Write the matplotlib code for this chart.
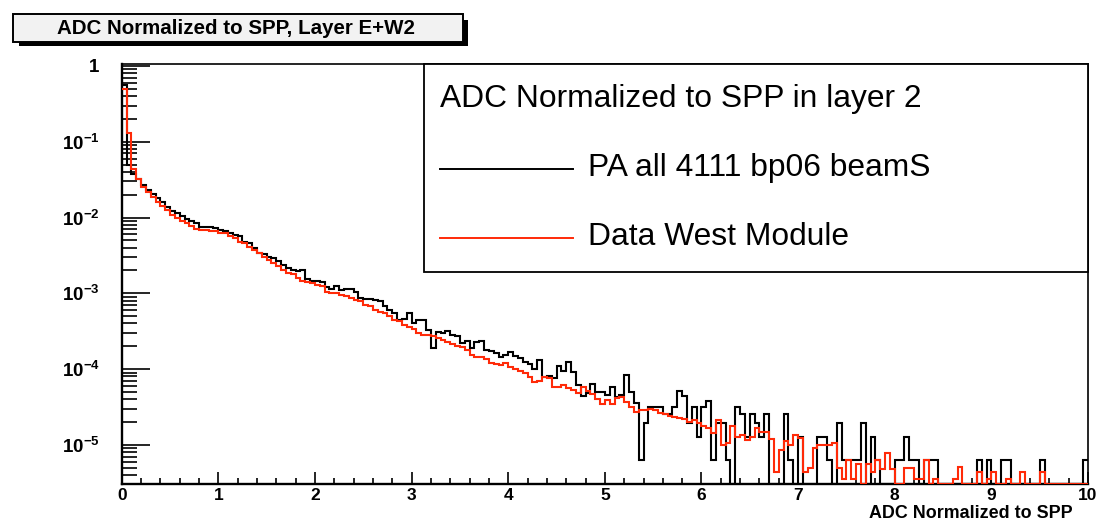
import numpy as np
import matplotlib
matplotlib.use("Agg")
import matplotlib.pyplot as plt
from matplotlib.patches import Rectangle
from matplotlib.lines import Line2D
from matplotlib.ticker import FixedLocator, LogLocator, MultipleLocator, NullFormatter

# ---------------- data ----------------
X_MIN, X_MAX, N_BINS = 0.0, 10.0, 200

# PA all 4111 bp06 beamS (black)
black = [
    0.56, 0.049, 0.038, 0.0327, 0.027, 0.023, 0.0204, 0.018, 0.0158, 0.0137,
    0.0123, 0.0114, 0.0105, 0.0095, 0.0090, 0.0084, 0.0076, 0.0074, 0.0074, 0.0072,
    0.0069, 0.0067, 0.0062, 0.0058, 0.0057, 0.00481, 0.00467, 0.00393, 0.00344, 0.00331,
    0.00305, 0.00290, 0.00270, 0.00237, 0.00214, 0.00200, 0.00194, 0.00200, 0.00153, 0.00147,
    0.00147, 0.00143, 0.00120, 0.00113, 0.00125, 0.00109, 0.00113, 0.00113, 0.00105, 0.00086,
    0.00084, 0.00084, 0.00082, 0.00078, 0.00068, 0.00060, 0.00055, 0.00045, 0.000455, 0.000546,
    0.000403, 0.000446, 0.000446, 0.000329, 0.000188, 0.000313, 0.000297, 0.000322, 0.000282, 0.000274,
    0.000219, 0.000238, 0.000188, 0.000231, 0.000238, 0.000179, 0.000174, 0.000162, 0.000143, 0.000154,
    0.000170, 0.000149, 0.000139, 0.000126, 0.000117, 9.95e-5, 0.000132, 7.8e-5, 8.1e-5, 7.57e-5,
    0.000110, 9.5e-5, 0.000126, 9.27e-5, 6.18e-5, 4.43e-5, 4.81e-5, 6.38e-5, 5.05e-5, 5.05e-5,
    4.57e-5, 5.76e-5, 4.34e-5, 4.57e-5, 8.38e-5, 5.05e-5, 3.55e-5, 6.4e-6, 1.92e-5, 3.2e-5,
    3.2e-5, 3.2e-5, 2.56e-5, 2.56e-5, 3.2e-5, 5.12e-5, 4.48e-5, 1.92e-5, 3.2e-5, 1.28e-5,
    3.2e-5, 3.84e-5, 6.4e-6, 1.92e-5, 1.92e-5, 6.4e-6, 0, 3.2e-5, 2.56e-5, 1.28e-5,
    2.56e-5, 1.92e-5, 1.28e-5, 2.56e-5, 0, 0, 0, 2.56e-5, 6.4e-6, 0,
    1.28e-5, 0, 0, 0, 1.28e-5, 1.28e-5, 6.4e-6, 0, 1.92e-5, 6.4e-6,
    6.4e-6, 6.4e-6, 6.4e-6, 1.92e-5, 0, 1.28e-5, 6.4e-6, 0, 0, 0,
    6.4e-6, 6.4e-6, 1.28e-5, 6.4e-6, 6.4e-6, 0, 6.4e-6, 6.4e-6, 6.4e-6, 0,
    0, 0, 0, 0, 0, 0, 0, 6.4e-6, 0, 6.4e-6,
    0, 0, 6.4e-6, 6.4e-6, 0, 0, 0, 0, 0, 0,
    6.4e-6, 0, 0, 0, 0, 0, 0, 0, 0, 6.4e-6,
]

# Data West Module (red)
red = [
    0.50, 0.13, 0.044, 0.032, 0.025, 0.0214, 0.0189, 0.0162, 0.0142, 0.0126,
    0.0108, 0.0100, 0.0091, 0.0084, 0.0078, 0.0070, 0.0068, 0.0068, 0.0066, 0.0066,
    0.0063, 0.0062, 0.0057, 0.0053, 0.00481, 0.00458, 0.00406, 0.00374, 0.00344, 0.00305,
    0.00276, 0.00249, 0.00226, 0.00204, 0.00184, 0.00181, 0.00158, 0.00147, 0.00143, 0.00136,
    0.00129, 0.00123, 0.00105, 0.00100, 0.00100, 0.00095, 0.00092, 0.00086, 0.00082, 0.00078,
    0.00070, 0.00067, 0.00060, 0.00057, 0.00055, 0.00050, 0.00045, 0.000425, 0.000384, 0.000357,
    0.000336, 0.000303, 0.000282, 0.000282, 0.000274, 0.000255, 0.000243, 0.000231, 0.000215, 0.000202,
    0.000194, 0.000179, 0.000154, 0.000146, 0.000143, 0.000135, 0.000122, 0.000117, 0.000114, 0.000122,
    0.000108, 9.95e-5, 9.55e-5, 8.8e-5, 7.8e-5, 6.84e-5, 7.05e-5, 7.8e-5, 7.57e-5, 5.76e-5,
    5.87e-5, 6.18e-5, 5.59e-5, 5.32e-5, 4.81e-5, 5.87e-5, 5.21e-5, 4.71e-5, 4.0e-5, 3.47e-5,
    3.92e-5, 3.47e-5, 4.13e-5, 4.34e-5, 3.73e-5, 3.14e-5, 2.75e-5, 2.89e-5, 2.89e-5, 2.95e-5,
    2.89e-5, 2.67e-5, 2.56e-5, 2.41e-5, 2.37e-5, 2.25e-5, 2.18e-5, 2.03e-5, 2.14e-5, 1.93e-5,
    1.75e-5, 1.66e-5, 1.43e-5, 2.10e-5, 1.0e-5, 1.07e-5, 1.75e-5, 1.29e-5, 1.36e-5, 1.16e-5,
    1.29e-5, 1.66e-5, 1.46e-5, 1.46e-5, 1.19e-5, 4.45e-6, 8.6e-6, 1.11e-5, 1.0e-5, 1.36e-5,
    1.23e-5, 4.45e-6, 4.9e-6, 9.0e-6, 1.0e-5, 1.0e-5, 1.0e-5, 1.07e-5, 4.9e-6, 3.6e-6,
    6.3e-6, 3.6e-6, 5.6e-6, 0, 5.6e-6, 4.45e-6, 6.3e-6, 4.8e-6, 7.8e-6, 4.8e-6,
    0, 0, 4.9e-6, 4.9e-6, 3.6e-6, 3.6e-6, 6.3e-6, 0, 3.6e-6, 0,
    0, 0, 3.6e-6, 5.1e-6, 0, 0, 0, 4.4e-6, 0, 3.6e-6,
    4.4e-6, 0, 0, 3.6e-6, 0, 0, 4.4e-6, 0, 0, 0,
    4.4e-6, 0, 0, 0, 0, 0, 0, 0, 0, 0,
]

Y_TICKS = [1e-5, 1e-4, 1e-3, 1e-2, 1e-1, 1.0]
Y_TICK_LABELS = [r"$\mathbf{10^{-5}}$", r"$\mathbf{10^{-4}}$", r"$\mathbf{10^{-3}}$",
                 r"$\mathbf{10^{-2}}$", r"$\mathbf{10^{-1}}$", r"$\mathbf{1}$"]

TITLE = "ADC Normalized to SPP, Layer E+W2"
XLABEL = "ADC Normalized to SPP"
LEG_HEADER = "ADC Normalized to SPP in layer 2"
LABEL_BLACK = "PA all 4111 bp06 beamS"
LABEL_RED = "Data West Module"
RED = "#ff2a08"

# ---------------- style ----------------
plt.rcParams["font.family"] = ["Liberation Sans", "DejaVu Sans"]
plt.rcParams["mathtext.fontset"] = "custom"
plt.rcParams["mathtext.rm"] = "Liberation Sans"
plt.rcParams["mathtext.bf"] = "Liberation Sans:bold"

W, H = 1099, 521
def fx(x):
    return x / W
def fy(y):
    return 1 - y / H

fig = plt.figure(figsize=(W / 100, H / 100), dpi=100)
fig.patch.set_facecolor("white")

ax_left, ax_right, ax_top, ax_bot = 121.7, 1088.0, 64.0, 484.0
ax = fig.add_axes([fx(ax_left), fy(ax_bot), (ax_right - ax_left) / W, (ax_bot - ax_top) / H])

YMIN, YMAX = 3.05e-6, 1.06
edges = np.linspace(X_MIN, X_MAX, N_BINS + 1)

def for_log(v):
    v = np.asarray(v, dtype=float)
    return np.where(v > 0, v, YMIN)

ax.stairs(for_log(black), edges, color="black", lw=1.5, baseline=None, zorder=3)
ax.stairs(for_log(red), edges, color=RED, lw=1.5, baseline=None, zorder=4)

ax.set_yscale("log")
ax.set_xlim(X_MIN, X_MAX)
ax.set_ylim(YMIN, YMAX)

ax.yaxis.set_major_locator(FixedLocator(Y_TICKS))
ax.set_yticklabels(Y_TICK_LABELS)
ax.yaxis.set_minor_locator(LogLocator(base=10, subs=np.arange(2, 10), numticks=20))
ax.yaxis.set_minor_formatter(NullFormatter())
ax.xaxis.set_major_locator(MultipleLocator(1))
ax.xaxis.set_minor_locator(MultipleLocator(0.2))

ax.tick_params(which="both", direction="in", top=False, right=False, color="black")
ax.tick_params(axis="y", which="major", length=20, width=1.2, pad=16, labelsize=13.5)
ax.tick_params(axis="y", which="minor", length=10.8, width=1.2)
ax.tick_params(axis="x", which="major", length=8.6, width=1.2, pad=3, labelsize=12.5)
ax.tick_params(axis="x", which="minor", length=4.3, width=1.2)
for lab in ax.get_xticklabels() + ax.get_yticklabels():
    lab.set_fontweight("bold")

for side in ["left", "bottom"]:
    ax.spines[side].set_linewidth(1.7)
for side in ["top", "right"]:
    ax.spines[side].set_linewidth(1.2)

# x-axis label (bold, right aligned)
fig.text(fx(1073), fy(513), XLABEL, ha="right", va="center", fontsize=12.9, fontweight="bold")

# ---------------- title box with shadow ----------------
fig.patches.append(Rectangle((fx(19), fy(45.5)), (467.5 - 19) / W, (45.5 - 20) / H,
                             transform=fig.transFigure, facecolor="black", edgecolor="none", zorder=5))
fig.patches.append(Rectangle((fx(13), fy(42)), (463 - 13) / W, (42 - 14) / H,
                             transform=fig.transFigure, facecolor="#f2f2f2", edgecolor="black",
                             lw=1.4, zorder=6))
fig.text(fx(236), fy(28.5), TITLE, ha="center", va="center", fontsize=14.8, fontweight="bold", zorder=7)

# ---------------- legend box ----------------
fig.patches.append(Rectangle((fx(423.5), fy(272)), (1088 - 423.5) / W, (272 - 64) / H,
                             transform=fig.transFigure, facecolor="white", edgecolor="black",
                             lw=1.3, zorder=5))
fig.text(fx(440), fy(106.7), LEG_HEADER, ha="left", va="baseline", fontsize=22.9, zorder=7)
fig.lines.append(Line2D([fx(440), fx(573)], [fy(169), fy(169)], transform=fig.transFigure,
                        color="black", lw=1.4, zorder=7))
fig.text(fx(588), fy(176), LABEL_BLACK, ha="left", va="baseline", fontsize=22.9, zorder=7)
fig.lines.append(Line2D([fx(440), fx(573)], [fy(238.3), fy(238.3)], transform=fig.transFigure,
                        color=RED, lw=1.4, zorder=7))
fig.text(fx(588), fy(245), LABEL_RED, ha="left", va="baseline", fontsize=22.9, zorder=7)

fig.savefig("out.png", dpi=100)
